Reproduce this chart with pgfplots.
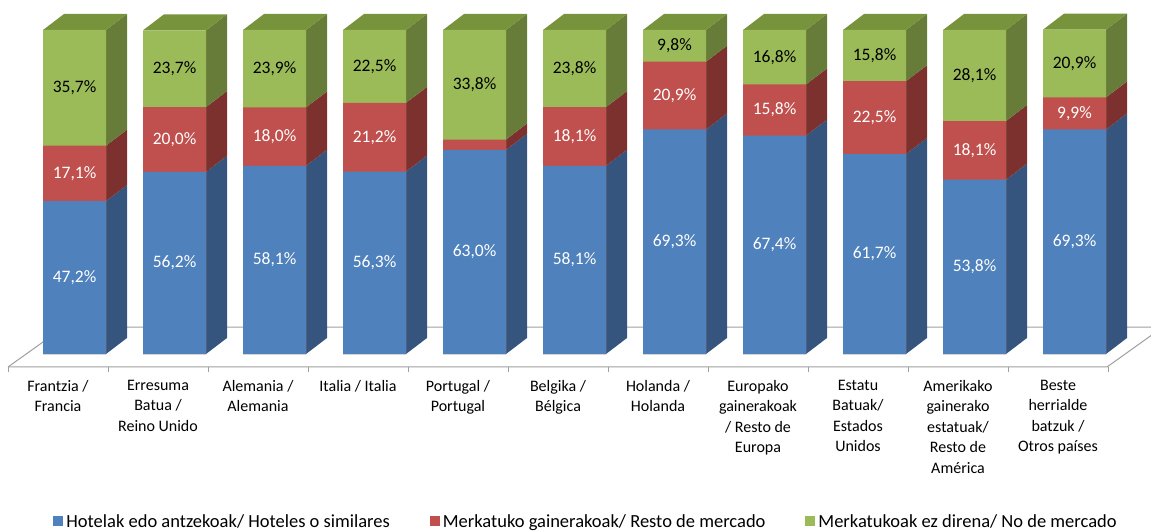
\documentclass[border=0pt]{standalone}
\usepackage{pgfplots}
\pgfplotsset{compat=1.18}
\usepackage{pgfplotstable}
\usepackage{fontspec}
\setmainfont{Carlito}
\definecolor{bluef}{HTML}{4F81BD}
\definecolor{blues}{HTML}{35557F}
\definecolor{redf}{HTML}{C0504D}
\definecolor{reds}{HTML}{7C312F}
\definecolor{greenf}{HTML}{9BBB59}
\definecolor{greens}{HTML}{677C38}
\definecolor{greent}{HTML}{77933C}
\definecolor{floorc}{HTML}{A0A0A0}

\pgfplotstableread{
idx h r g
0 47.2 17.1 35.7
1 56.2 20.0 23.7
2 58.1 18.0 23.9
3 56.3 21.2 22.5
4 63.0 3.2 33.8
5 58.1 18.1 23.8
6 69.3 20.9 9.8
7 67.4 15.8 16.8
8 61.7 22.5 15.8
9 53.8 18.1 28.1
10 69.3 9.9 20.9
}\data

\newcommand\catlab{\fontsize{16}{20.5}\selectfont}
\newcommand\datlab{\fontsize{17.5}{20}\selectfont}

\begin{document}
\begin{tikzpicture}
\begin{axis}[
  x=100pt, y=3.24pt,
  xmin=-0.745, xmax=10.765, ymin=-54.63, ymax=109.26,
  hide axis, clip=false,
  /pgf/number format/.cd, use comma, fixed, fixed zerofill, precision=1, assume math mode=true,
  /pgfplots/.cd,
  reverse legend,
  legend columns=3,
  legend style={draw=none, fill=none, at={(axis cs:5.115,-51.85)}, anchor=center,
    font=\fontsize{18.5}{21}\selectfont, inner sep=0pt,
    /tikz/every even column/.append style={column sep=38pt},
    /tikz/every odd column/.append style={column sep=1pt}},
  legend image code/.code={\fill[#1] (0pt,-4.5pt) rectangle (10pt,5.5pt);},
]
% floor
\addplot[floorc, line width=1pt, forget plot] coordinates {(-0.665,-4.01) (-0.105,8.33) (10.765,8.33)};
\addplot[floorc, line width=1pt, forget plot] coordinates {(-0.665,-4.01) (10.325,-4.01) (10.765,5.69)};
\pgfplotsforeachungrouped \k in {0,...,11}{%
  \pgfmathsetmacro\tx{\k-0.665}%
  \edef\cmd{\noexpand\addplot[floorc, line width=1pt, forget plot] coordinates {(\tx,-4.01) (\tx,-5.6)};}%
  \cmd
}
% side and top faces
\pgfplotsforeachungrouped \i in {0,...,10}{%
  \pgfplotstablegetelem{\i}{h}\of\data \let\vh\pgfplotsretval
  \pgfplotstablegetelem{\i}{r}\of\data \let\vr\pgfplotsretval
  \pgfplotstablegetelem{\i}{g}\of\data \let\vg\pgfplotsretval
  \pgfmathsetmacro\xl{\i-0.315}%
  \pgfmathsetmacro\xr{\i+0.315}%
  \pgfmathsetmacro\xld{\i-0.315+0.21}%
  \pgfmathsetmacro\xrd{\i+0.315+0.21}%
  \pgfmathsetmacro\ya{\vh}%
  \pgfmathsetmacro\yb{\vh+\vr}%
  \pgfmathsetmacro\yc{\vh+\vr+\vg}%
  \pgfmathsetmacro\yz{4.94}%
  \pgfmathsetmacro\yad{\ya+4.94}%
  \pgfmathsetmacro\ybd{\yb+4.94}%
  \pgfmathsetmacro\ycd{\yc+4.94}%
  \edef\cmd{%
    \noexpand\addplot[fill=blues, draw=none, forget plot] coordinates {(\xr,0) (\xrd,\yz) (\xrd,\yad) (\xr,\ya)} -- cycle;
    \noexpand\addplot[fill=reds, draw=none, forget plot] coordinates {(\xr,\ya) (\xrd,\yad) (\xrd,\ybd) (\xr,\yb)} -- cycle;
    \noexpand\addplot[fill=greens, draw=none, forget plot] coordinates {(\xr,\yb) (\xrd,\ybd) (\xrd,\ycd) (\xr,\yc)} -- cycle;
    \noexpand\addplot[fill=greent, draw=none, forget plot] coordinates {(\xl,\yc) (\xr,\yc) (\xrd,\ycd) (\xld,\ycd)} -- cycle;
  }%
  \cmd
}
% front faces
\addplot[ybar, bar width=63pt, bar shift=0pt, fill=greenf, draw=none] table[x=idx, y expr=\thisrow{h}+\thisrow{r}+\thisrow{g}] {\data};
\addlegendentry{Merkatukoak ez direna/ No de mercado}
\addplot[ybar, bar width=63pt, bar shift=0pt, fill=redf, draw=none] table[x=idx, y expr=\thisrow{h}+\thisrow{r}] {\data};
\addlegendentry{Merkatuko gainerakoak/ Resto de mercado}
\addplot[ybar, bar width=63pt, bar shift=0pt, fill=bluef, draw=none] table[x=idx, y=h] {\data};
\addlegendentry{Hotelak edo antzekoak/ Hoteles o similares}
% data labels
\addplot[only marks, mark=*, mark size=0pt, mark options={draw=none, fill=none}, forget plot,
  point meta=explicit, nodes near coords={\pgfmathprintnumber{\pgfplotspointmeta}\%},
  every node near coord/.append style={anchor=center, text=white, font=\datlab}]
  table[x=idx, y expr=\thisrow{h}/2, meta=h] {\data};
\addplot[only marks, mark=*, mark size=0pt, mark options={draw=none, fill=none}, forget plot,
  skip coords between index={4}{5},
  point meta=explicit, nodes near coords={\pgfmathprintnumber{\pgfplotspointmeta}\%},
  every node near coord/.append style={anchor=center, text=white, font=\datlab}]
  table[x=idx, y expr=\thisrow{h}+\thisrow{r}/2, meta=r] {\data};
\addplot[only marks, mark=*, mark size=0pt, mark options={draw=none, fill=none}, forget plot,
  point meta=explicit, nodes near coords={\pgfmathprintnumber{\pgfplotspointmeta}\%},
  every node near coord/.append style={anchor=center, text=black, font=\datlab}]
  table[x=idx, y expr=\thisrow{h}+\thisrow{r}+\thisrow{g}/2, meta=g] {\data};
% category labels
\tikzset{cl/.style={anchor=north, align=center, font=\catlab, inner sep=0pt, text=black}}
\node[cl] at (axis cs:-0.165,-8.02) {Frantzia /\\Francia};
\node[cl] at (axis cs:0.835,-8.02) {Erresuma\\Batua /\\Reino Unido};
\node[cl] at (axis cs:1.835,-8.02) {Alemania /\\Alemania};
\node[cl] at (axis cs:2.835,-8.02) {Italia / Italia};
\node[cl] at (axis cs:3.835,-8.02) {Portugal /\\Portugal};
\node[cl] at (axis cs:4.835,-8.02) {Belgika /\\Bélgica};
\node[cl] at (axis cs:5.835,-8.02) {Holanda /\\Holanda};
\node[cl] at (axis cs:6.835,-8.02) {Europako\\gainerakoak\\/ Resto de\\Europa};
\node[cl] at (axis cs:7.835,-8.02) {Estatu\\Batuak/\\Estados\\Unidos};
\node[cl] at (axis cs:8.835,-8.02) {Amerikako\\gainerako\\estatuak/\\Resto de\\América};
\node[cl] at (axis cs:9.835,-8.02) {Beste\\herrialde\\batzuk /\\Otros países};
\coordinate (BL) at (rel axis cs:0,0);
\coordinate (TR) at (rel axis cs:1,1);
\end{axis}
\pgfresetboundingbox
\path[use as bounding box] (BL) rectangle (TR);
\end{tikzpicture}
\end{document}
